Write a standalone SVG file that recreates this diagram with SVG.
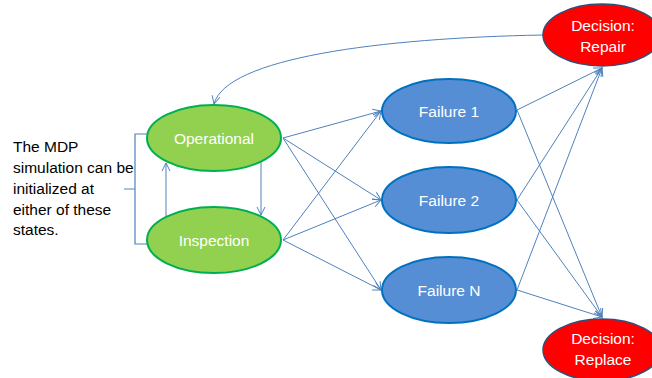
<svg xmlns="http://www.w3.org/2000/svg" width="652" height="378" viewBox="0 0 652 378">
  <style>
    .lbl { font-family: "Liberation Sans", Arial, sans-serif; font-size: 15.5px; fill: #ffffff; text-anchor: middle; }
    .note { font-family: "Liberation Sans", Arial, sans-serif; font-size: 15.5px; fill: #000000; }
    .green { fill: #92d050; stroke: #00b050; stroke-width: 2; }
    .blue { fill: #558ed5; stroke: #0070c0; stroke-width: 2; }
    .red { fill: #ff0000; stroke: #2f4f7a; stroke-width: 1.5; }
    .edge { fill: none; stroke: #4f81bd; stroke-width: 1; marker-end: url(#arrow); }
    .brace { fill: none; stroke: #4f81bd; stroke-width: 1.2; }
  </style>
  <defs>
    <marker id="arrow" markerWidth="10" markerHeight="10" refX="9" refY="5" orient="auto" markerUnits="userSpaceOnUse">
      <path d="M1,1 L9,5 L1,9" fill="none" stroke="#4f81bd" stroke-width="1"/>
    </marker>
  </defs>

  <rect width="652" height="378" fill="#ffffff"/>

  <!-- annotation with brace -->
  <g id="note">
    <text class="note" x="13" y="152">The MDP</text>
    <text class="note" x="13" y="173">simulation can be</text>
    <text class="note" x="13" y="194">initialized at</text>
    <text class="note" x="13" y="215">either of these</text>
    <text class="note" x="13" y="235">states.</text>
    <path class="brace" d="M147,134 H135 V189 L124,189 M135,189 V244 H147"/>
  </g>

  <!-- connectors -->
  <g id="connectors">
    <path class="edge" d="M543,35 C380,38 226,58 214,104"/>
    <line class="edge" x1="166" y1="216" x2="166" y2="163"/>
    <line class="edge" x1="261" y1="162" x2="261" y2="215"/>
    <line class="edge" x1="283" y1="138" x2="381" y2="111"/>
    <line class="edge" x1="283" y1="138" x2="381" y2="200"/>
    <line class="edge" x1="283" y1="138" x2="381" y2="290"/>
    <line class="edge" x1="283" y1="240" x2="381" y2="111"/>
    <line class="edge" x1="283" y1="240" x2="381" y2="200"/>
    <line class="edge" x1="283" y1="240" x2="381" y2="290"/>
    <line class="edge" x1="517" y1="110" x2="602" y2="68"/>
    <line class="edge" x1="517" y1="110" x2="602" y2="317"/>
    <line class="edge" x1="517" y1="200" x2="602" y2="68"/>
    <line class="edge" x1="517" y1="200" x2="602" y2="317"/>
    <line class="edge" x1="517" y1="290" x2="602" y2="68"/>
    <line class="edge" x1="517" y1="290" x2="602" y2="317"/>
  </g>

  <g id="operational">
    <ellipse class="green" cx="214" cy="138" rx="67" ry="33"/>
    <text class="lbl" x="214" y="144">Operational</text>
  </g>
  <g id="inspection">
    <ellipse class="green" cx="214" cy="240" rx="67" ry="33"/>
    <text class="lbl" x="214" y="246">Inspection</text>
  </g>
  <g id="failure1">
    <ellipse class="blue" cx="449" cy="111" rx="67" ry="32"/>
    <text class="lbl" x="449" y="117">Failure 1</text>
  </g>
  <g id="failure2">
    <ellipse class="blue" cx="449" cy="200" rx="67" ry="33"/>
    <text class="lbl" x="449" y="206">Failure 2</text>
  </g>
  <g id="failureN">
    <ellipse class="blue" cx="449" cy="290" rx="67" ry="33"/>
    <text class="lbl" x="449" y="296">Failure N</text>
  </g>
  <g id="repair">
    <ellipse class="red" cx="602" cy="35" rx="59" ry="31"/>
    <text class="lbl" x="603" y="31">Decision:</text>
    <text class="lbl" x="603" y="52">Repair</text>
  </g>
  <g id="replace">
    <ellipse class="red" cx="602" cy="350" rx="59" ry="31"/>
    <text class="lbl" x="603" y="344">Decision:</text>
    <text class="lbl" x="603" y="365">Replace</text>
  </g>
</svg>
